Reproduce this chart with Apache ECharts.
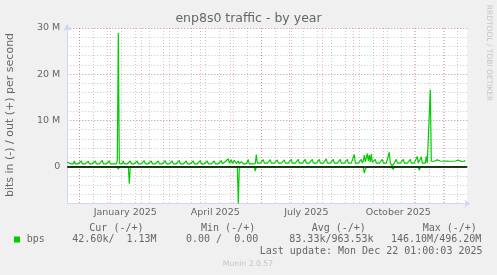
<!DOCTYPE html>
<html><head><meta charset="utf-8">
<script src="https://cdn.jsdelivr.net/npm/echarts@6/dist/echarts.min.js"></script>
<style>html,body{margin:0;padding:0;background:#f0f0f0;}#c{width:497px;height:275px;}</style>
</head><body><div id="c"></div>
<script>
// ---- data (Mbit/s, one value per day starting at startDate) ----
const startDate = '2024-11-19';
const dayCount = 401;
const outValues = [
  1.0,0.6,0.6,0.6,0.6,0.6,0.6,
  1.2,0.6,0.6,0.6,0.6,0.6,0.6,
  1.2,0.6,0.6,0.6,0.6,0.6,0.6,
  1.15,0.6,0.6,0.6,0.6,0.6,0.6,
  1.2,0.6,0.6,0.6,0.6,0.6,0.6,
  1.35,0.6,0.6,0.6,0.6,0.6,0.6,
  1.2,0.6,0.6,0.6,0.6,0.6,0.6,
  0.6,1.3,28.9,0.65,0.6,0.6,0.6,
  1.2,0.6,0.6,0.6,0.6,0.6,0.6,
  1.2,0.6,0.6,0.6,0.6,0.6,0.6,
  1.2,0.6,0.6,0.6,0.6,0.6,0.6,
  1.25,0.6,0.6,0.6,0.6,0.6,0.6,
  1.2,0.6,0.6,0.6,0.6,0.6,0.6,
  1.2,0.6,0.6,0.6,0.6,0.6,0.6,
  1.25,0.6,0.6,0.6,0.6,0.6,0.6,
  1.2,0.6,0.6,0.6,0.6,0.6,0.6,
  1.3,0.6,0.6,0.6,0.6,0.6,0.6,
  1.2,0.6,0.6,0.6,0.6,0.6,0.6,
  1.2,0.6,0.6,0.6,0.6,0.6,0.6,
  1.3,0.6,0.6,0.6,0.6,0.6,0.6,
  1.2,0.6,0.6,0.6,0.6,0.6,0.6,
  1.2,0.6,0.6,0.6,0.6,0.6,0.6,
  1.3,0.6,0.6,0.85,1.05,0.65,1.15,
  1.7,0.75,1.05,1.5,0.65,0.95,1.35,
  1.3,0.65,0.95,1.2,0.6,0.85,1.05,
  1.3,0.6,0.6,0.6,0.6,0.65,1.5,
  0.6,0.6,0.6,0.6,0.6,0.6,0.65,
  2.6,0.75,0.75,0.75,0.75,0.75,0.75,
  1.5,0.75,0.75,0.75,0.75,0.75,0.75,
  1.5,0.75,0.75,0.75,0.75,0.75,0.75,
  1.45,0.75,0.75,0.75,0.75,0.75,0.75,
  1.45,0.75,0.75,0.75,0.75,0.75,0.75,
  1.55,0.75,0.75,0.75,0.75,0.75,0.75,
  1.55,0.75,0.75,0.75,0.75,0.75,0.75,
  1.55,0.75,0.75,0.75,0.75,0.75,0.75,
  1.55,0.75,0.75,0.75,0.75,0.75,0.75,
  1.55,0.75,0.75,0.75,0.75,0.75,0.75,
  1.65,0.75,0.75,0.75,0.75,0.75,0.75,
  1.55,0.75,0.75,0.75,0.75,0.75,0.75,
  1.55,0.75,0.75,0.75,0.75,0.75,0.75,
  1.55,0.75,0.75,0.75,0.75,0.75,0.75,
  2.6,0.75,0.75,0.75,0.75,0.75,0.75,
  1.55,0.75,1.2,2.5,1.0,1.4,2.8,
  1.2,2.5,1.0,2.7,0.9,0.75,0.75,
  1.55,0.75,0.75,0.75,0.75,0.75,0.75,
  1.55,0.75,0.75,0.75,0.75,0.75,0.75,
  3.1,0.75,0.35,0.15,0.5,0.75,0.75,
  1.55,0.75,0.75,0.75,0.75,0.75,0.75,
  1.55,0.75,0.75,0.75,0.75,0.75,0.75,
  1.55,0.75,0.75,0.75,0.75,0.75,0.75,
  2.2,0.75,0.75,0.9,2.1,0.75,0.75,
  0.75,0.75,2.2,0.75,0.75,0.9,16.7,
  1.15,1.2,1.15,1.15,1.2,1.15,1.45,
  1.15,1.15,1.2,1.15,1.15,1.15,1.45,
  1.15,1.2,1.15,1.15,1.15,1.15,1.4,
  1.15,1.1,1.15,1.2,1.1,1.15,1.4,
  1.2,1.15,1.1,1.15,1.2,1.15,1.35,
  null,null
];
// in (-) readings: [day index, Mbit/s]
const inReadings = [
  [0,-0.05],[24,-0.05],[25,-0.3],[26,-0.05],[34,-0.05],[35,-0.3],[36,-0.05],
  [50,-0.05],[51,-0.6],[52,-0.05],[61,-0.05],[62,-3.7],[63,-0.05],
  [77,-0.05],[78,-0.4],[79,-0.05],[85,-0.05],[86,-0.3],[87,-0.05],
  [155,-0.05],[156,-0.4],[157,-0.05],[170,-0.05],[171,-8.0],[172,-0.05],
  [187,-0.05],[188,-1.0],[189,-0.05],[296,-0.05],[297,-1.4],[298,-0.5],[299,-0.9],[300,-0.05],
  [324,-0.05],[325,-0.4],[326,-0.6],[327,-0.05],[351,-0.05],[352,-0.8],[353,-0.05],[398,-0.05]
];
const xTickDates = ['2025-01-16','2025-04-16','2025-07-16','2025-10-16'];
const xTickLabels = ['January 2025','April 2025','July 2025','October 2025'];
const yTickValues = [0,10,20,30];
const yTickLabels = ['0','10 M','20 M','30 M'];
const legendHeaders = ['Cur (-/+)','Min (-/+)','Avg (-/+)','Max (-/+)'];
const legendValues = ['42.60k/  1.13M','0.00 /  0.00','83.33k/963.53k','146.10M/496.20M'];
const seriesName = 'bps';
const lastUpdate = 'Last update: Mon Dec 22 01:00:03 2025';
const titleText = 'enp8s0 traffic - by year';
const unitText = 'bits in (-) / out (+) per second';

// ---- build ----
const days = [];
(function(){ const d0 = new Date(startDate + 'T00:00:00Z');
  for (let i = 0; i < dayCount; i++) days.push(new Date(d0.getTime() + i*86400000).toISOString().slice(0,10)); })();
const refDay = days.indexOf('2024-12-01');

const FONT = '#666666', GREEN = '#00cc00', AXIS = '#cfd6f8';
const GRAY = 'rgba(120,120,120,0.4)', RED = 'rgba(220,40,40,0.34)';
const gridL = 67.3, gridW = 400, gridT = 28;

const chart = echarts.init(document.getElementById('c'), null, {renderer: 'canvas'});
chart.setOption({
  animation: false,
  backgroundColor: '#f0f0f0',
  grid: [
    {left: gridL, top: gridT, width: gridW, height: 175.5, show: true, backgroundColor: '#ffffff', borderWidth: 0},
    {left: gridL, top: gridT, width: gridW, height: 138.5, show: false}
  ],
  xAxis: [
    {gridIndex: 0, type: 'category', data: days, boundaryGap: false, position: 'bottom',
     axisLine: {show: false}, axisTick: {show: false}, axisLabel: {show: false},
     splitLine: {show: true, interval: (i) => (i - refDay) % 14 === 0, lineStyle: {color: GRAY, type: [1,2], width: 1}}},
    {gridIndex: 0, type: 'category', data: days, boundaryGap: false, position: 'bottom',
     axisLine: {show: true, lineStyle: {color: AXIS, width: 1}, symbol: ['none','arrow'], symbolSize: [6,6], symbolOffset: [0,3]},
     axisTick: {show: false},
     axisLabel: {show: true, interval: (i, v) => xTickDates.indexOf(v) >= 0,
       formatter: (v) => xTickLabels[xTickDates.indexOf(v)] || '', color: FONT, fontSize: 9.5, fontFamily: 'DejaVu Sans', margin: 4},
     splitLine: {show: true, interval: (i, v) => v.slice(8) === '01', lineStyle: {color: RED, type: [1,2], width: 1}}},
    {gridIndex: 1, type: 'category', data: days, boundaryGap: false, show: false}
  ],
  yAxis: [
    {gridIndex: 0, type: 'value', min: -8, max: 30, interval: 2,
     axisLine: {show: true, lineStyle: {color: AXIS, width: 1}, symbol: ['none','arrow'], symbolSize: [6,7], symbolOffset: [0,4]},
     axisTick: {show: false}, axisLabel: {show: false},
     splitLine: {show: true, lineStyle: {color: GRAY, type: [1,2], width: 1}}},
    {gridIndex: 1, type: 'value', min: 0, max: 30, interval: 10,
     axisLine: {show: false}, axisTick: {show: false},
     axisLabel: {show: true, color: FONT, fontSize: 9.5, fontFamily: 'DejaVu Sans', margin: 7,
       formatter: (v) => yTickLabels[yTickValues.indexOf(v)]},
     splitLine: {show: true, lineStyle: {color: RED, type: [1,2], width: 1}}}
  ],
  series: [
    {name: 'out', type: 'line', xAxisIndex: 1, yAxisIndex: 0, data: outValues, symbol: 'none',
     lineStyle: {color: GREEN, width: 1.2}, connectNulls: false, z: 3},
    {name: 'in', type: 'line', xAxisIndex: 1, yAxisIndex: 0, data: inReadings, symbol: 'none',
     lineStyle: {color: GREEN, width: 1.2}, z: 3,
     markLine: {silent: true, symbol: 'none', label: {show: false}, animation: false,
       lineStyle: {color: '#000000', width: 1.6, type: 'solid'}, data: [{yAxis: 0}]}}
  ],
  graphic: [
    {type: 'text', x: 248.5, y: 19, style: {text: titleText, fill: FONT, fontSize: 12.5, fontFamily: 'DejaVu Sans', align: 'center', verticalAlign: 'middle'}},
    {type: 'text', x: 10.5, y: 115, rotation: Math.PI/2, style: {text: unitText, fill: FONT, fontSize: 11, fontFamily: 'DejaVu Sans', align: 'center', verticalAlign: 'middle'}},
    {type: 'text', x: 488.5, y: 53, rotation: -Math.PI/2, style: {text: 'RRDTOOL / TOBI OETIKER', fill: '#c4c4c4', fontSize: 7.5, fontFamily: 'DejaVu Sans', align: 'center', verticalAlign: 'middle'}},
    {type: 'text', x: 89.3, y: 228, style: {text: legendHeaders[0], fill: FONT, fontSize: 10, fontFamily: 'DejaVu Sans Mono', align: 'left', verticalAlign: 'middle'}},
    {type: 'text', x: 201, y: 228, style: {text: legendHeaders[1], fill: FONT, fontSize: 10, fontFamily: 'DejaVu Sans Mono', align: 'left', verticalAlign: 'middle'}},
    {type: 'text', x: 311.7, y: 228, style: {text: legendHeaders[2], fill: FONT, fontSize: 10, fontFamily: 'DejaVu Sans Mono', align: 'left', verticalAlign: 'middle'}},
    {type: 'text', x: 422.7, y: 228, style: {text: legendHeaders[3], fill: FONT, fontSize: 10, fontFamily: 'DejaVu Sans Mono', align: 'left', verticalAlign: 'middle'}},
    {type: 'rect', shape: {x: 14, y: 236.5, width: 6, height: 6}, style: {fill: GREEN}},
    {type: 'text', x: 26.7, y: 239.5, style: {text: seriesName, fill: FONT, fontSize: 10, fontFamily: 'DejaVu Sans Mono', align: 'left', verticalAlign: 'middle'}},
    {type: 'text', x: 72.3, y: 239.5, style: {text: legendValues[0], fill: FONT, fontSize: 10, fontFamily: 'DejaVu Sans Mono', align: 'left', verticalAlign: 'middle'}},
    {type: 'text', x: 186, y: 239.5, style: {text: legendValues[1], fill: FONT, fontSize: 10, fontFamily: 'DejaVu Sans Mono', align: 'left', verticalAlign: 'middle'}},
    {type: 'text', x: 289.3, y: 239.5, style: {text: legendValues[2], fill: FONT, fontSize: 10, fontFamily: 'DejaVu Sans Mono', align: 'left', verticalAlign: 'middle'}},
    {type: 'text', x: 391, y: 239.5, style: {text: legendValues[3], fill: FONT, fontSize: 10, fontFamily: 'DejaVu Sans Mono', align: 'left', verticalAlign: 'middle'}},
    {type: 'text', x: 482.5, y: 251, style: {text: lastUpdate, fill: FONT, fontSize: 10, fontFamily: 'DejaVu Sans Mono', align: 'right', verticalAlign: 'middle'}},
    {type: 'text', x: 248, y: 264, style: {text: 'Munin 2.0.57', fill: '#c4c4c4', fontSize: 7.7, fontFamily: 'DejaVu Sans', align: 'center', verticalAlign: 'middle'}}
  ]
});
</script></body></html>
